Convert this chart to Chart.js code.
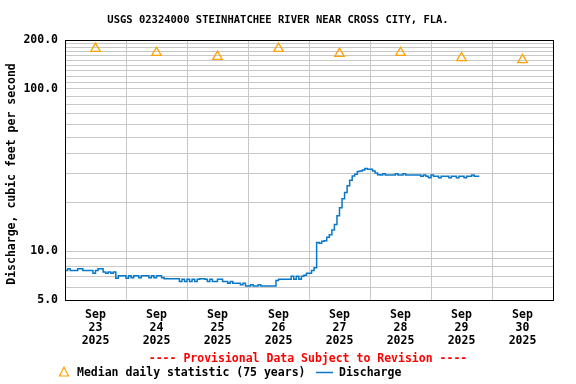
<!DOCTYPE html>
<html>
<head>
<meta charset="utf-8">
<script src="https://cdn.jsdelivr.net/npm/chart.js@4/dist/chart.umd.min.js"></script>
<style>
  html, body { margin: 0; padding: 0; background: #fff; }
  canvas { display: block; }
</style>
</head>
<body>
<canvas id="hydrograph" width="576" height="384"></canvas>
<script>
// day labels along the bottom (centred on noon of each day)
const dayLabels = ["23", "24", "25", "26", "27", "28", "29", "30"];
const monthLabel = "Sep";
const yearLabel = "2025";

// median daily statistic, one value per day
const medianValues = [177, 167, 158, 177, 165, 167, 155, 151];

// hourly discharge, starting Sep 23 00:00
const dischargeValues = [
  7.8, 7.6, 7.8, 7.6, 7.6, 7.6, 7.8, 7.8, 7.6, 7.6,
  7.6, 7.6, 7.3, 7.6, 7.8, 7.8, 7.45, 7.3, 7.45, 7.3,
  7.45, 6.8, 7.05, 7.05, 7.05, 6.8, 7.05, 6.85, 7.05, 7.05,
  6.85, 7.05, 7.05, 7.05, 6.85, 7.05, 6.85, 7.05, 7.05, 6.85,
  6.75, 6.75, 6.75, 6.75, 6.75, 6.75, 6.5, 6.7, 6.5, 6.7,
  6.5, 6.7, 6.5, 6.7, 6.75, 6.75, 6.7, 6.5, 6.7, 6.5,
  6.5, 6.7, 6.7, 6.5, 6.5, 6.35, 6.5, 6.35, 6.35, 6.35,
  6.2, 6.35, 6.1, 6.1, 6.2, 6.1, 6.1, 6.2, 6.1, 6.1,
  6.1, 6.1, 6.1, 6.1, 6.6, 6.7, 6.7, 6.7, 6.7, 6.7,
  7.0, 6.7, 7.0, 6.7, 7.0, 7.1, 7.3, 7.3, 7.6, 7.9,
  11.3, 11.2, 11.5, 11.6, 12.2, 12.6, 13.5, 14.6, 16.5, 18.5,
  21.0, 23.0, 25.3, 27.3, 29.0, 29.8, 31.0, 31.2, 31.6, 32.3,
  32.0, 32.0, 31.2, 30.3, 29.6, 29.5, 30.0, 29.5, 29.5, 29.5,
  29.5, 30.0, 29.5, 29.5, 30.0, 29.5, 29.5, 29.5, 29.5, 29.5,
  29.5, 28.9, 29.5, 28.9, 28.3, 29.5, 28.9, 28.9, 28.3, 28.9,
  28.9, 28.9, 28.3, 28.9, 28.9, 28.3, 28.9, 28.9, 28.3, 28.9,
  28.9, 29.5, 28.9, 28.9
];

// gridlines on the log axis, and the ones that get a label
const yTickValues = [5, 6, 7, 8, 9, 10, 20, 30, 40, 50, 60, 70, 80, 90,
  100, 110, 120, 130, 140, 150, 160, 170, 180, 190, 200];
const yLabelledTicks = [5, 10, 100, 200];

const HOURS_PER_DAY = 24;
const FONT = "'DejaVu Sans Mono', 'Liberation Mono', monospace";
const ORANGE = "#ffa200";
const BLUE = "#0a78c8";

const xTickHours = [];
for (let h = 0; h <= dayLabels.length * HOURS_PER_DAY; h += 12) xTickHours.push(h);

const dischargePoints = dischargeValues.map((v, i) => ({ x: i, y: v }));
const medianPoints = medianValues.map((v, i) => ({ x: i * HOURS_PER_DAY + 12, y: v }));

const framePlugin = {
  id: "frame",
  afterDraw(chart) {
    const { ctx, chartArea: a } = chart;
    ctx.save();
    ctx.strokeStyle = "#000";
    ctx.lineWidth = 1;
    ctx.strokeRect(a.left + 0.5, a.top + 0.5, a.right - a.left, a.bottom - a.top);

    ctx.fillStyle = "#000";
    ctx.textBaseline = "middle";

    ctx.font = "bold 10.5px " + FONT;
    ctx.textAlign = "center";
    ctx.fillText("USGS 02324000 STEINHATCHEE RIVER NEAR CROSS CITY, FLA.", 278, 20);

    ctx.font = "bold 11.5px " + FONT;
    ctx.save();
    ctx.translate(12, 174);
    ctx.rotate(-Math.PI / 2);
    ctx.fillText("Discharge, cubic feet per second", 0, 0);
    ctx.restore();

    ctx.fillStyle = "#ff0000";
    ctx.fillText("---- Provisional Data Subject to Revision ----", 308, 359);

    // legend
    ctx.strokeStyle = ORANGE;
    ctx.lineWidth = 1.2;
    ctx.beginPath();
    ctx.moveTo(64, 367);
    ctx.lineTo(68.5, 376);
    ctx.lineTo(59.5, 376);
    ctx.closePath();
    ctx.stroke();

    ctx.fillStyle = "#000";
    ctx.textAlign = "left";
    ctx.fillText("Median daily statistic (75 years)", 77, 373);

    ctx.strokeStyle = BLUE;
    ctx.lineWidth = 1.5;
    ctx.beginPath();
    ctx.moveTo(316, 372.5);
    ctx.lineTo(333, 372.5);
    ctx.stroke();
    ctx.fillText("Discharge", 339, 373);
    ctx.restore();
  }
};

new Chart(document.getElementById("hydrograph"), {
  type: "line",
  data: {
    datasets: [
      {
        label: "Discharge",
        data: dischargePoints,
        borderColor: BLUE,
        borderWidth: 1.5,
        pointRadius: 0,
        stepped: "after",
        fill: false
      },
      {
        label: "Median daily statistic (75 years)",
        data: medianPoints,
        showLine: false,
        pointStyle: "triangle",
        pointRadius: 5.5,
        pointBorderWidth: 1.3,
        pointBorderColor: ORANGE,
        pointBackgroundColor: "rgba(255,255,255,0)"
      }
    ]
  },
  options: {
    responsive: false,
    animation: false,
    devicePixelRatio: 1,
    layout: { padding: { top: 40, right: 23, bottom: 0, left: 0 } },
    plugins: {
      legend: { display: false },
      title: { display: false },
      tooltip: { enabled: false }
    },
    scales: {
      x: {
        type: "linear",
        min: 0,
        max: dayLabels.length * HOURS_PER_DAY,
        afterBuildTicks: (scale) => {
          scale.ticks = xTickHours.map((v) => ({ value: v }));
        },
        afterFit: (scale) => { scale.height = 84; },
        border: { display: false },
        grid: {
          drawTicks: false,
          color: (c) => (c.tick && c.tick.value % HOURS_PER_DAY === 0 ? "#c8c8c8" : "rgba(0,0,0,0)"),
          lineWidth: 1
        },
        ticks: {
          autoSkip: false,
          maxRotation: 0,
          padding: 9,
          color: "#000",
          font: { family: FONT, size: 11.5, weight: "bold", lineHeight: 1.13 },
          callback: (v) => {
            if (v % HOURS_PER_DAY !== 12) return "";
            const d = Math.floor(v / HOURS_PER_DAY);
            return [monthLabel, dayLabels[d], yearLabel];
          }
        }
      },
      y: {
        type: "logarithmic",
        min: 5,
        max: 200,
        afterBuildTicks: (scale) => {
          scale.ticks = yTickValues.map((v) => ({ value: v }));
        },
        afterFit: (scale) => { scale.width = 65; },
        border: { display: false },
        grid: { drawTicks: false, color: "#c8c8c8", lineWidth: 1 },
        ticks: {
          autoSkip: false,
          padding: 7,
          color: "#000",
          font: { family: FONT, size: 11.5, weight: "bold" },
          callback: (v) => (yLabelledTicks.includes(v) ? v.toFixed(1) : "")
        }
      }
    }
  },
  plugins: [framePlugin]
});
</script>
</body>
</html>
